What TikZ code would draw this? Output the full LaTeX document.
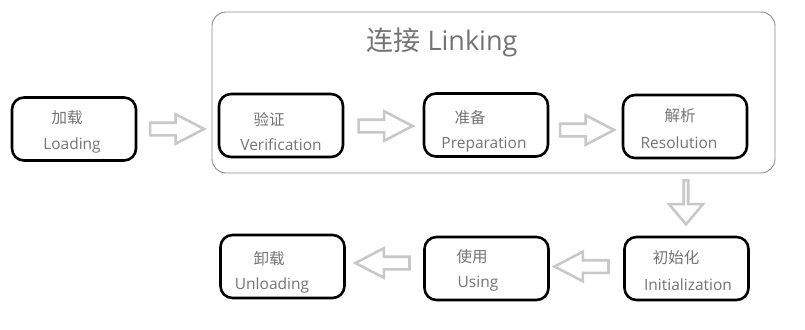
\documentclass[tikz,border=0pt]{standalone}
\usepackage{fontspec}
\setmainfont{Open Sans}
\newfontfamily\cjk{Noto Sans CJK SC}
\usetikzlibrary{positioning,shapes.arrows}
\definecolor{txtgray}{RGB}{115,115,115}
\definecolor{arrgray}{RGB}{200,200,200}
\definecolor{framegray}{RGB}{140,140,140}

\begin{document}
\begin{tikzpicture}[x=1pt,y=-1pt,
    stage/.style={rectangle,draw,line width=2.6pt,rounded corners=12pt,minimum width=124pt,minimum height=63pt},
    zh/.style={font=\cjk\fontsize{15.5}{18}\selectfont,text=txtgray,inner sep=0pt},
    en/.style={font=\fontsize{15.5}{18}\selectfont,text=txtgray,inner sep=0pt},
    flow/.style={single arrow,draw=arrgray,line width=2.6pt,inner xsep=0pt,inner ysep=5pt,minimum height=54pt,minimum width=27pt,single arrow head extend=8.5pt,single arrow tip angle=55}]
\useasboundingbox (0,0) rectangle (805,329);

% Linking frame
\node[rectangle,draw=framegray,line width=0.9pt,rounded corners=14pt,minimum width=563pt,minimum height=161pt] (linking) at (493.5,92.5) {};
\node[font=\fontsize{27}{31}\selectfont,text=txtgray,inner sep=0pt] (linktitle) at (442,42) {{\cjk 连接} Linking};

% Stages
\node[stage] (load) at (74,129) {};
\node[zh] (loadzh) at (67,118) {加载};
\node[en] (loaden) at (72,145) {Loading};

\node[stage] (verif) at (281,125.5) {};
\node[zh] (verifzh) at (269,119) {验证};
\node[en] (verifen) at (281,145) {Verification};

\node[stage] (prep) at (486,125) {};
\node[zh] (prepzh) at (470,118) {准备};
\node[en] (prepen) at (484,145) {Preparation};

\node[stage] (res) at (685,126.5) {};
\node[zh] (reszh) at (680,116) {解析};
\node[en] (resen) at (679,143) {Resolution};

\node[stage] (init) at (686.5,268.5) {};
\node[zh] (initzh) at (676,258) {初始化};
\node[en] (initen) at (688,285) {Initialization};

\node[stage] (use) at (486.5,268.5) {};
\node[zh] (usezh) at (472,257) {使用};
\node[en] (useen) at (478,284) {Using};

\node[stage] (unload) at (282.5,266.5) {};
\node[zh] (unloadzh) at (269,259) {卸载};
\node[en] (unloaden) at (272,285) {Unloading};

% Flow arrows
\node[flow] (a1) at (171,129) {};
\node[flow] (a2) at (379.5,126) {};
\node[flow] (a3) at (581,130) {};
\node[flow,shape border rotate=270,inner ysep=8.5pt,minimum height=44pt,minimum width=34pt,single arrow tip angle=80] (a4) at (686,201) {};
\node[flow,shape border rotate=180] (a5) at (587.5,266.5) {};
\node[flow,shape border rotate=180] (a6) at (388.5,263) {};

\end{tikzpicture}
\end{document}
